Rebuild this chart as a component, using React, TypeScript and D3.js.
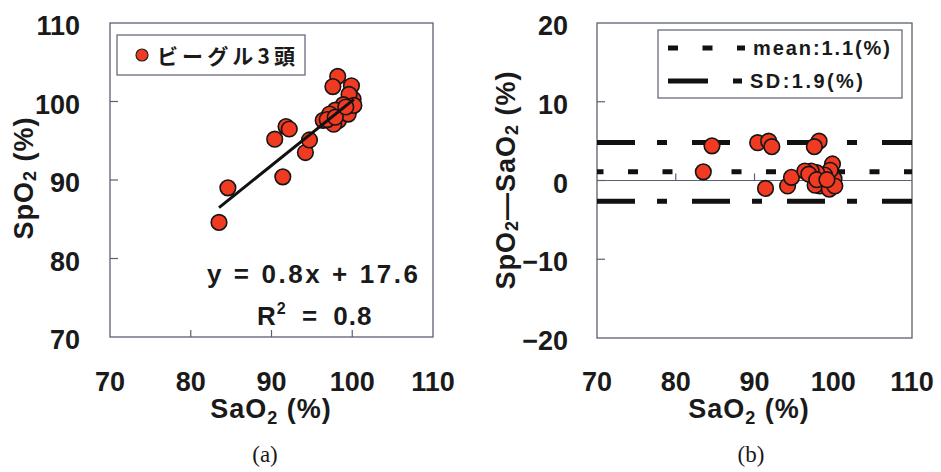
import React from "react";
import * as d3 from "d3";

// Paired oxygen saturation readings (%), one entry per measurement
const sao2 = [83.5, 84.6, 90.4, 91.8, 92.2, 91.4, 94.2, 94.7, 98.2, 97.6, 99.9, 100.1, 99.6, 98.9, 97.9, 97.2, 96.4, 98.3, 97.7, 99.5, 100.2, 96.9, 97.9, 99.2];
const spo2 = [84.6, 89.0, 95.2, 96.8, 96.5, 90.4, 93.5, 95.1, 103.2, 101.9, 102.0, 100.3, 100.9, 99.6, 98.9, 98.4, 97.6, 97.6, 97.1, 98.4, 99.5, 97.7, 98.0, 99.3];

// Regression of SpO2 on SaO2
const fitSlope = 0.825;
const fitIntercept = 17.6;
const fitR2 = 0.8;

// Bland-Altman summary
const diffMean = 1.1;
const diffSD = 1.9;

const xTicks = [70, 80, 90, 100, 110];
const yTicksA = [70, 80, 90, 100, 110];
const yTicksB = [-20, -10, 0, 10, 20];
const innerTicksX = [80, 90, 100];
const innerTicksYA = [80, 90, 100];
const innerTicksYB = [-10, 0, 10];

const legendA = "ビーグル3頭";
const legendMean = `mean:${diffMean.toFixed(1)}(%)`;
const legendSD = `SD:${diffSD.toFixed(1)}(%)`;

const RED = "#f03a22";
const FRAME = "#5a6070";
const SANS = "'Liberation Sans', Arial, sans-serif";
const CJK = "'Noto Sans CJK JP', sans-serif";

const xA = d3.scaleLinear().domain([70, 110]).range([110, 433]);
const yA = d3.scaleLinear().domain([70, 110]).range([337, 23]);
const xB = d3.scaleLinear().domain([70, 110]).range([597, 912]);
const yB = d3.scaleLinear().domain([-20, 20]).range([338, 23]);

const SD_DASH = "38 22 10 25";
const MEAN_DASH = "10 24.5";
const R_PT = 7.8;

export default function App() {
  const pairs = sao2.map((s, i) => ({ s, p: spo2[i], d: spo2[i] - s }));
  const [xmin, xmax] = d3.extent(sao2) as [number, number];
  const fitLine = d3
    .line<number>()
    .x((v) => xA(v))
    .y((v) => yA(fitSlope * v + fitIntercept));
  const upper = diffMean + 1.96 * diffSD;
  const lower = diffMean - 1.96 * diffSD;

  const tickStyle = { fontFamily: SANS, fontWeight: 700, fontSize: 27, fill: "#1a1a1a" } as const;
  const titleStyle = { fontFamily: SANS, fontWeight: 700, fontSize: 27, fill: "#1a1a1a", letterSpacing: 1 } as const;

  return (
    <svg
      width={941}
      height={472}
      style={{ position: "absolute", left: 0, top: 0, display: "block", background: "#fff" }}
    >
      <rect x={0} y={0} width={941} height={472} fill="#fff" />

      {/* ---------- (a) SpO2 vs SaO2 ---------- */}
      <g>
        <rect x={xA(70)} y={yA(110)} width={xA(110) - xA(70)} height={yA(70) - yA(110)} fill="none" stroke={FRAME} strokeWidth={1.3} />
        {innerTicksX.map((t) => (
          <line key={"ax" + t} x1={xA(t)} x2={xA(t)} y1={yA(70)} y2={yA(70) - 7} stroke={FRAME} strokeWidth={1.2} />
        ))}
        {innerTicksYA.map((t) => (
          <line key={"ay" + t} x1={xA(70)} x2={xA(70) + 8} y1={yA(t)} y2={yA(t)} stroke={FRAME} strokeWidth={1.2} />
        ))}
        {xTicks.map((t) => (
          <text key={"axl" + t} x={xA(t)} y={391} textAnchor="middle" {...tickStyle}>{t}</text>
        ))}
        {yTicksA.map((t) => (
          <text key={"ayl" + t} x={xA(70) - 30} y={yA(t) + 12} textAnchor="end" {...tickStyle}>{t}</text>
        ))}
        <text x={271} y={418} textAnchor="middle" {...titleStyle}>
          SaO<tspan fontSize={18} dy={6}>2</tspan><tspan dy={-6}> (%)</tspan>
        </text>
        <text transform="translate(33,178) rotate(-90)" textAnchor="middle" {...titleStyle}>
          SpO<tspan fontSize={18} dy={3}>2</tspan><tspan dy={-3}> (%)</tspan>
        </text>

        {/* legend */}
        <rect x={117} y={35} width={188} height={40} fill="#fff" stroke={FRAME} strokeWidth={1.2} />
        <circle cx={142} cy={55} r={6} fill={RED} stroke="#222" strokeWidth={1.2} />
        <text x={157} y={64} fontFamily={CJK} fontWeight={700} fontSize={21} fill="#1a1a1a" textLength={138} lengthAdjust="spacing">
          {legendA}
        </text>

        {/* points */}
        {pairs.map((q, i) => (
          <circle key={"pa" + i} cx={xA(q.s)} cy={yA(q.p)} r={R_PT} fill={RED} stroke="#151515" strokeWidth={1.6} />
        ))}
        {/* regression line */}
        <path d={fitLine([xmin, xmax]) || ""} fill="none" stroke="#111" strokeWidth={3} />

        <text x={207} y={283} fontFamily={SANS} fontWeight={700} fontSize={26} fill="#1a1a1a" textLength={211} lengthAdjust="spacing">
          {`y = ${fitSlope.toFixed(1)}x + ${fitIntercept.toFixed(1)}`}
        </text>
        <text x={257} y={325} fontFamily={SANS} fontWeight={700} fontSize={26} fill="#1a1a1a" letterSpacing={1} wordSpacing={7} xmlSpace="preserve">
          R<tspan fontSize={16} dy={-11}>2</tspan><tspan dy={11}>{` = ${fitR2.toFixed(1)}`}</tspan>
        </text>

        <text x={265} y={462} textAnchor="middle" fontFamily="'Liberation Serif', 'Times New Roman', serif" fontSize={23} fill="#1a1a1a">(a)</text>
      </g>

      {/* ---------- (b) Bland-Altman ---------- */}
      <g>
        <rect x={xB(70)} y={yB(20)} width={xB(110) - xB(70)} height={yB(-20) - yB(20)} fill="none" stroke={FRAME} strokeWidth={1.3} />
        <line x1={xB(70)} x2={xB(110)} y1={yB(0)} y2={yB(0)} stroke={FRAME} strokeWidth={1.2} />
        {innerTicksX.map((t) => (
          <line key={"bx" + t} x1={xB(t)} x2={xB(t)} y1={yB(0)} y2={yB(0) - 7} stroke={FRAME} strokeWidth={1.2} />
        ))}
        {innerTicksYB.map((t) => (
          <line key={"by" + t} x1={xB(70)} x2={xB(70) + 8} y1={yB(t)} y2={yB(t)} stroke={FRAME} strokeWidth={1.2} />
        ))}
        {xTicks.map((t) => (
          <text key={"bxl" + t} x={xB(t)} y={391} textAnchor="middle" {...tickStyle}>{t}</text>
        ))}
        {yTicksB.map((t) => (
          <text key={"byl" + t} x={xB(70) - 29} y={yB(t) + 12} textAnchor="end" {...tickStyle}>
            {t < 0 ? "\u2212" + Math.abs(t) : String(t)}
          </text>
        ))}
        <text x={749} y={418} textAnchor="middle" {...titleStyle}>
          SaO<tspan fontSize={18} dy={6}>2</tspan><tspan dy={-6}> (%)</tspan>
        </text>
        <text transform="translate(515,180) rotate(-90)" textAnchor="middle" {...titleStyle}>
          SpO<tspan fontSize={18} dy={3}>2</tspan><tspan dy={-3}>—SaO</tspan><tspan fontSize={18} dy={3}>2</tspan><tspan dy={-3}> (%)</tspan>
        </text>

        {/* limits of agreement and mean difference */}
        <line x1={xB(70)} x2={xB(110)} y1={yB(upper)} y2={yB(upper)} stroke="#111" strokeWidth={5} strokeDasharray={SD_DASH} />
        <line x1={xB(70)} x2={xB(110)} y1={yB(lower)} y2={yB(lower)} stroke="#111" strokeWidth={5} strokeDasharray={SD_DASH} />
        <line x1={xB(70)} x2={xB(110)} y1={yB(diffMean)} y2={yB(diffMean)} stroke="#111" strokeWidth={5} strokeDasharray={MEAN_DASH} strokeDashoffset={3.5} />

        {pairs.map((q, i) => (
          <circle key={"pb" + i} cx={xB(q.s)} cy={yB(q.d)} r={R_PT} fill={RED} stroke="#151515" strokeWidth={1.6} />
        ))}

        {/* legend */}
        <rect x={658} y={30} width={244} height={68} fill="#fff" stroke={FRAME} strokeWidth={1.2} />
        <line x1={668} x2={745} y1={48} y2={48} stroke="#111" strokeWidth={5} strokeDasharray={MEAN_DASH} />
        <line x1={668} x2={742} y1={81} y2={81} stroke="#111" strokeWidth={5} strokeDasharray="40 25 9 25" />
        <text x={753} y={55} fontFamily={SANS} fontWeight={700} fontSize={20} fill="#1a1a1a" textLength={137} lengthAdjust="spacing">{legendMean}</text>
        <text x={750} y={88} fontFamily={SANS} fontWeight={700} fontSize={20} fill="#1a1a1a" textLength={113} lengthAdjust="spacing">{legendSD}</text>

        <text x={751} y={462} textAnchor="middle" fontFamily="'Liberation Serif', 'Times New Roman', serif" fontSize={23} fill="#1a1a1a">(b)</text>
      </g>
    </svg>
  );
}
